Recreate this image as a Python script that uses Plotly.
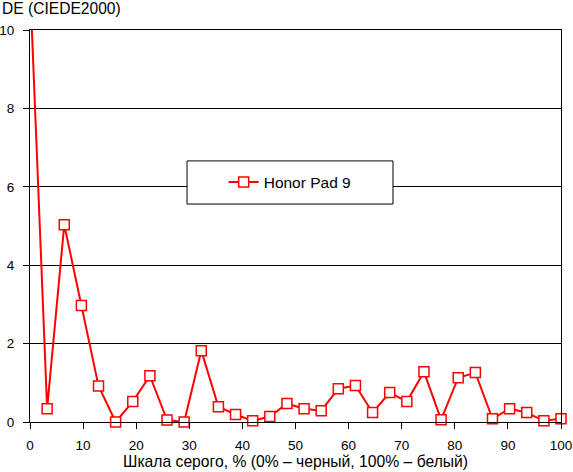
import plotly.graph_objects as go

# grey scale steps, 32 levels from 0% to 100%
gray_pct = [i * 100 / 31 for i in range(32)]
de_values = [11.2, 0.34, 5.03, 2.97, 0.92, 0.0, 0.52, 1.18, 0.05, 0.0,
             1.82, 0.39, 0.19, 0.03, 0.14, 0.47, 0.34, 0.29, 0.85, 0.93,
             0.24, 0.75, 0.52, 1.28, 0.06, 1.13, 1.26, 0.08, 0.34, 0.24,
             0.03, 0.08]
series_name = "Honor Pad 9"

FONT = "Liberation Sans, Arial, sans-serif"

fig = go.Figure()
fig.add_trace(go.Scatter(
    x=gray_pct, y=de_values, mode="lines+markers", name=series_name,
    line=dict(color="#ff0000", width=2),
    marker=dict(symbol="square", size=10, color="white",
                line=dict(color="#ff0000", width=1.5)),
    cliponaxis=False,
))

# legend frame
fig.add_shape(type="rect", xref="paper", yref="paper",
              x0=0.2957, x1=0.6836, y0=0.556, y1=0.666,
              line=dict(color="black", width=1), fillcolor="white",
              layer="above")

fig.update_layout(
    width=573, height=472,
    margin=dict(l=30, r=12, t=30, b=50),
    paper_bgcolor="white", plot_bgcolor="white",
    font=dict(family=FONT, size=16, color="black"),
    showlegend=True,
    legend=dict(x=0.49, y=0.611, xanchor="center", yanchor="middle",
                bgcolor="rgba(0,0,0,0)", borderwidth=0,
                font=dict(size=15.5), itemwidth=30),
    xaxis=dict(range=[0, 100], tickvals=list(range(0, 101, 10)),
               showgrid=False, showline=True, linecolor="black", linewidth=1,
               mirror=True, ticks="outside", ticklen=6, tickcolor="black",
               tickfont=dict(size=13.5), ticklabelstandoff=5,
               automargin=False, zeroline=False, fixedrange=True),
    yaxis=dict(range=[0, 10], tickvals=list(range(0, 11, 2)),
               showgrid=True, gridcolor="black", gridwidth=1,
               showline=True, linecolor="black", linewidth=1, mirror=True,
               ticks="outside", ticklen=6, tickcolor="black",
               tickfont=dict(size=13.5), ticklabelstandoff=6,
               automargin=False, zeroline=False, fixedrange=True),
    annotations=[
        dict(text="DE (CIEDE2000)", xref="paper", yref="paper",
             x=-0.0565, y=1.0536, xanchor="left", yanchor="middle",
             showarrow=False, font=dict(size=15.6)),
        dict(text="Шкала серого, % (0% – черный, 100% – белый)",
             xref="paper", yref="paper", x=0.5, y=-0.102,
             xanchor="center", yanchor="middle", showarrow=False,
             font=dict(size=15.7)),
    ],
)

fig.write_html("out.html", config={"displayModeBar": False},
               post_script="document.body.style.margin='0';")
